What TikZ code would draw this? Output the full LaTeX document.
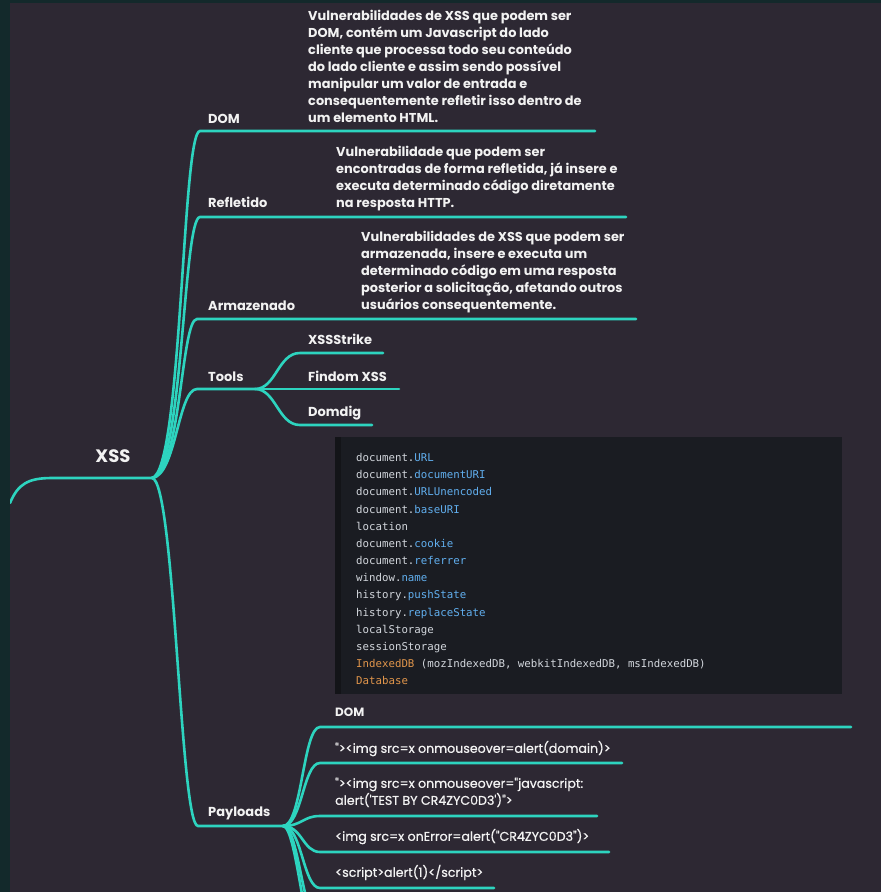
\documentclass[tikz,border=0pt]{standalone}
\usepackage{fontspec}
\setmainfont{Poppins}
\newfontfamily\codefont{DejaVu Sans Mono}
\newfontfamily\plfont{Poppins}[Ligatures=TeXOff,FakeBold=0.8]
\definecolor{bgc}{HTML}{2D2833}
\definecolor{stripc}{HTML}{13292B}
\definecolor{branchc}{HTML}{2DD4BF}
\definecolor{codebg}{HTML}{1A1C22}
\definecolor{codeedge}{HTML}{131418}
\definecolor{codeplain}{HTML}{D2D6DC}
\definecolor{codeblue}{HTML}{61AFEF}
\definecolor{codeorange}{HTML}{E0954B}
\definecolor{txt}{HTML}{F2F2F2}
\begin{document}
\begin{tikzpicture}[x=1pt,y=-1pt,line cap=round,
  br/.style={draw=branchc,line width=2.6pt},
  lbl/.style={text=txt,font=\bfseries\fontsize{13}{15}\selectfont,inner sep=0pt,anchor=base west},
  desc/.style={text=txt,font=\bfseries\fontsize{12.9}{17}\selectfont,align=left,inner sep=0pt,anchor=south west,text depth=0pt},
  pl/.style={text=txt,font=\plfont\fontsize{12.6}{17}\selectfont,align=left,inner sep=0pt,anchor=south west,text depth=0pt},
  cd/.style={font=\codefont\fontsize{10.75}{12}\selectfont,inner sep=0pt,anchor=base west,text=codeplain}]
\useasboundingbox (0,0) rectangle (881,892);
\fill[bgc] (0,0) rectangle (881,892);
\fill[stripc] (0,0) rectangle (10,892);
\fill[stripc] (0,0) rectangle (881,3);

% code block
\fill[codebg] (335,437) rectangle (842,694);
\fill[codeedge] (335,437) rectangle (341,694);

\begin{scope}
\clip (10,3) rectangle (881,892);
% root
\coordinate (in) at (10,503);
\coordinate (root) at (152,478);
\draw[br] (in) .. controls (18,484) and (28,478) .. (52,478) -- (root);
\node[text=txt,font=\bfseries\fontsize{18}{20}\selectfont,inner sep=0pt,anchor=base] (xss) at (113,462.5) {XSS};

% DOM
\coordinate (domA) at (200,131);
\coordinate (domM) at (300,131);
\coordinate (domB) at (595,131);
\draw[br] (root) .. controls (182,472) and (182,131) .. (domA) -- (domM) -- (domB);
% Refletido
\coordinate (refA) at (200,217);
\coordinate (refM) at (328,217);
\coordinate (refB) at (626,217);
\draw[br] (root) .. controls (183,472) and (183,217) .. (refA) -- (refM) -- (refB);
% Armazenado
\coordinate (armA) at (197,319);
\coordinate (armM) at (352,319);
\coordinate (armB) at (636,319);
\draw[br] (root) .. controls (181,473) and (181,319) .. (armA) -- (armM) -- (armB);
% Tools
\coordinate (toolA) at (197,389);
\coordinate (toolJ) at (255,389);
\draw[br] (root) .. controls (176,476) and (178,389) .. (toolA) -- (toolJ);
\coordinate (t1A) at (300,353); \coordinate (t1B) at (383,353);
\coordinate (t2A) at (300,389); \coordinate (t2B) at (399,389);
\coordinate (t3A) at (300,425); \coordinate (t3B) at (372,425);
\draw[br] (toolJ) .. controls (276,389) and (278,353) .. (t1A) -- (t1B);
\draw[br] (toolJ) -- (t2A) -- (t2B);
\draw[br] (toolJ) .. controls (276,389) and (278,425) .. (t3A) -- (t3B);
% Payloads
\coordinate (payA) at (198,826);
\coordinate (payJ) at (283,826);
\draw[br] (root) .. controls (175,480) and (180,826) .. (payA) -- (payJ);
\coordinate (p1A) at (320,727); \coordinate (p1B) at (851,727);
\coordinate (p2A) at (320,763); \coordinate (p2B) at (622,763);
\coordinate (p3A) at (320,816); \coordinate (p3B) at (597,816);
\coordinate (p4A) at (320,852); \coordinate (p4B) at (609,852);
\coordinate (p5A) at (320,888); \coordinate (p5B) at (494,888);
\coordinate (p6A) at (325,930);
\coordinate (p7A) at (325,968);
\draw[br] (payJ) .. controls (302,826) and (303,727) .. (p1A) -- (p1B);
\draw[br] (payJ) .. controls (302,826) and (303,763) .. (p2A) -- (p2B);
\draw[br] (payJ) .. controls (302,826) and (303,816) .. (p3A) -- (p3B);
\draw[br] (payJ) .. controls (302,826) and (303,852) .. (p4A) -- (p4B);
\draw[br] (payJ) .. controls (302,826) and (303,888) .. (p5A) -- (p5B);
\draw[br] (payJ) .. controls (300,826) and (302,930) .. (p6A);
\draw[br] (payJ) .. controls (298,826) and (306,968) .. (p7A);
\end{scope}

% labels
\node[lbl] (lDom) at (208,123) {DOM};
\node[lbl] (lRef) at (208,207.5) {Refletido};
\node[lbl] (lArm) at (208,310) {Armazenado};
\node[lbl] (lTools) at (208,381) {Tools};
\node[lbl] (lPay) at (208,816) {Payloads};
\node[lbl] (lXs) at (308,344) {XSSStrike};
\node[lbl] (lFi) at (308,381) {Findom XSS};
\node[lbl] (lDd) at (308,416) {Domdig};

% descriptions
\node[desc] (dDom) at (308,123) {Vulnerabilidades de XSS que podem ser\\DOM, contém um Javascript do lado\\cliente que processa todo seu conteúdo\\do lado cliente e assim sendo possível\\manipular um valor de entrada e\\consequentemente refletir isso dentro de\\um elemento HTML.};
\node[desc] (dRef) at (336,207.5) {Vulnerabilidade que podem ser\\encontradas de forma refletida, já insere e\\executa determinado código diretamente\\na resposta HTTP.};
\node[desc] (dArm) at (361,310) {Vulnerabilidades de XSS que podem ser\\armazenada, insere e executa um\\determinado código em uma resposta\\posterior a solicitação, afetando outros\\usuários consequentemente.};

% code lines
\node[cd] (c1) at (356,461.5) {document.\textcolor{codeblue}{URL}};
\node[cd] (c2) at (356,478.7) {document.\textcolor{codeblue}{documentURI}};
\node[cd] (c3) at (356,495.8) {document.\textcolor{codeblue}{URLUnencoded}};
\node[cd] (c4) at (356,513.0) {document.\textcolor{codeblue}{baseURI}};
\node[cd] (c5) at (356,530.2) {location};
\node[cd] (c6) at (356,547.4) {document.\textcolor{codeblue}{cookie}};
\node[cd] (c7) at (356,564.5) {document.\textcolor{codeblue}{referrer}};
\node[cd] (c8) at (356,581.7) {window.\textcolor{codeblue}{name}};
\node[cd] (c9) at (356,598.9) {history.\textcolor{codeblue}{pushState}};
\node[cd] (c10) at (356,616.0) {history.\textcolor{codeblue}{replaceState}};
\node[cd] (c11) at (356,633.2) {localStorage};
\node[cd] (c12) at (356,650.4) {sessionStorage};
\node[cd] (c13) at (356,667.5) {\textcolor{codeorange}{IndexedDB} (mozIndexedDB, webkitIndexedDB, msIndexedDB)};
\node[cd] (c14) at (356,684.7) {\textcolor{codeorange}{Database}};

% payload texts
\node[lbl,font=\bfseries\fontsize{12}{15}\selectfont] (q1) at (335,716) {DOM};
\node[pl] (q2) at (335,753) {"><img src=x onmouseover=alert(domain)>};
\node[pl] (q3) at (335,805) {"><img src=x onmouseover="javascript:\\alert('TEST BY CR4ZYC0D3')">};
\node[pl] (q4) at (335,841) {<img src=x onError=alert("CR4ZYC0D3")>};
\node[pl] (q5) at (335,877) {<script>alert(1)</script>};
\end{tikzpicture}
\end{document}
